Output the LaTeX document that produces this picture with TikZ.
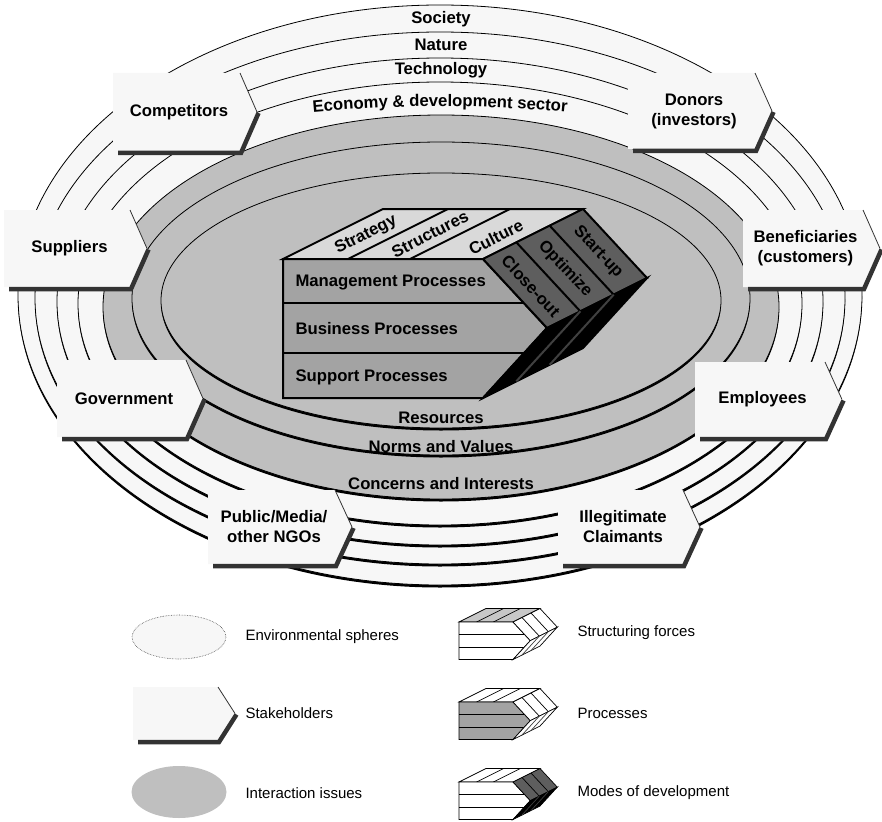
\documentclass[tikz,border=0pt]{standalone}
\usepackage{fontspec}
\setmainfont{Liberation Sans}
\usetikzlibrary{decorations.text}

\definecolor{ringwhite}{gray}{0.97}
\definecolor{issuegray}{gray}{0.75}
\definecolor{shadowdark}{gray}{0.2}
\definecolor{topgray}{gray}{0.85}
\definecolor{legendtop}{gray}{0.78}
\definecolor{procgray}{gray}{0.64}
\definecolor{modegray}{gray}{0.37}

\newcommand\econfont{\bfseries\fontsize{16.7}{20}\selectfont}

\tikzset{
  ringlabel/.style={font=\bfseries\fontsize{16.7}{20}\selectfont},
  stakelabel/.style={font=\bfseries\fontsize{16.7}{20}\selectfont, align=center},
  blocklabel/.style={font=\bfseries\fontsize{16.7}{20}\selectfont},
  legendlabel/.style={anchor=west, font=\fontsize{15}{18}\selectfont},
}

% disc with a dark rim below: fill, cx, cy, rx, ry
\newcommand\disc[5]{%
  \fill[black] (#2,{#3+2.5}) ellipse [x radius=#4, y radius=#5];
  \filldraw[fill=#1, line width=0.8pt] (#2,#3) ellipse [x radius=#4, y radius=#5];
}

% stakeholder arrow box: name, x, y, w, h, text
\newcommand\stakebox[6]{%
  \fill[ringwhite] (#2,#3) -- ({#2+#4-17},#3) -- ({#2+#4},{#3+#5/2}) -- ({#2+#4-17},{#3+#5}) -- (#2,{#3+#5}) -- cycle;
  \draw[line width=0.8pt, color=black!80] ({#2+#4-17},#3) -- ({#2+#4},{#3+#5/2});
  \draw[line width=4.5pt, color=shadowdark] ({#2+5},{#3+#5+2}) -- ({#2+#4-16},{#3+#5+2}) -- ({#2+#4+1.5},{#3+#5/2+1});
  \node[stakelabel] (#1) at ({#2+#4/2-6},{#3+#5/2}) {#6};
}

% organisation block: x, y, scale, top, front, modes, lower, line width
\newcommand\orgblock[8]{%
  \begin{scope}[shift={(#1,#2)}, scale=#3, line width=#8]
    \filldraw[fill=#4] (0,0) -- (200,0) -- (300,-50) -- (100,-50) -- cycle;
    \draw (65,0) -- (165,-50) (127,0) -- (227,-50);
    \filldraw[fill=#5] (0,0) -- (200,0) -- (264,69) -- (200,139) -- (0,139) -- cycle;
    \draw (0,44) -- (240.8,44) (0,94) -- (241.1,94);
    \filldraw[fill=#6] (200,0) -- (264,69) -- (364,19) -- (300,-50) -- cycle;
    \draw (233.3,-16.7) -- (297.3,52.3) (266.7,-33.3) -- (330.7,35.7);
    \filldraw[fill=#7] (264,69) -- (200,139) -- (300,89) -- (364,19) -- cycle;
    \draw[color=black!75] (297.3,52.3) -- (233.3,122.3) (330.7,35.7) -- (266.7,105.7);
  \end{scope}
}

\begin{document}
\begin{tikzpicture}[x=1pt,y=-1pt]
\useasboundingbox (0,0) rectangle (882,821);

% environmental spheres
\disc{ringwhite}{440}{295}{422}{290}
\disc{ringwhite}{440}{298}{405}{266}
\disc{ringwhite}{440}{301.5}{383}{243.5}
\disc{ringwhite}{440}{303.5}{362}{221.5}
% interaction issues
\disc{issuegray}{441}{307}{338}{192}
\disc{issuegray}{441}{298.5}{309}{156.5}
\disc{issuegray}{441}{300.5}{280}{127.5}

\node[ringlabel] (society) at (441,19) {Society};
\node[ringlabel] (nature) at (441,45) {Nature};
\node[ringlabel] (technology) at (441,70) {Technology};
\path[decorate, decoration={text along path, text align=center,
  text={|\econfont|Economy {\&} development sector}}]
  (296,114) .. controls (390,104) and (490,104) .. (584,114);
\node[ringlabel] (resources) at (441,418) {Resources};
\node[ringlabel] (norms) at (441,447) {Norms and Values};
\node[ringlabel] (concerns) at (441,484) {Concerns and Interests};

% the organisation
\orgblock{283}{259}{1}{topgray}{procgray}{modegray}{black}{2pt}
\node[blocklabel, anchor=west] (mgmt) at (292,283) {Management Processes};
\node[blocklabel, anchor=west] (business) at (292,329) {Business Processes};
\node[blocklabel, anchor=west] (support) at (292,377) {Support Processes};
\node[blocklabel, rotate=27] (strategy) at (366,235) {Strategy};
\node[blocklabel, rotate=27] (structures) at (430,234) {Structures};
\node[blocklabel, rotate=27] (culture) at (496,237) {Culture};
\node[blocklabel, rotate=-47] (closeout) at (531,286) {Close-out};
\node[blocklabel, rotate=-47] (optimize) at (565,269) {Optimize};
\node[blocklabel, rotate=-47] (startup) at (598,252) {Start-up};

% stakeholders
\stakebox{competitors}{113}{73}{144}{78}{Competitors}
\stakebox{donors}{628}{73}{144}{76}{Donors\\(investors)}
\stakebox{suppliers}{4}{210}{143}{77}{Suppliers}
\stakebox{beneficiaries}{743}{210}{137}{77}{Beneficiaries\\(customers)}
\stakebox{government}{57}{360}{146}{77}{Government}
\stakebox{employees}{695}{362}{147}{75}{Employees}
\stakebox{public}{208}{490}{144}{74}{Public/Media/\\other NGOs}
\stakebox{illegitimate}{558}{490}{142}{74}{Illegitimate\\Claimants}

% legend
\filldraw[fill=ringwhite, draw=black!70, densely dotted, line width=0.6pt] (179,637) ellipse [x radius=47, y radius=22];
\node[legendlabel] (envlegend) at (242,637) {Environmental spheres};
\stakebox{stakelegendbox}{133}{687}{102}{53}{}
\node[legendlabel] (stakelegend) at (242,713) {Stakeholders};
\fill[issuegray] (179,792) ellipse [x radius=47.5, y radius=26];
\node[legendlabel] (issuelegend) at (242,793) {Interaction issues};

\orgblock{459}{622}{0.27}{legendtop}{white}{white}{white}{0.7pt}
\node[legendlabel] (forceslegend) at (574,633) {Structuring forces};
\orgblock{459}{702}{0.27}{white}{procgray}{white}{white}{0.7pt}
\node[legendlabel] (processlegend) at (574,713) {Processes};
\orgblock{459}{782}{0.27}{white}{white}{modegray}{black}{0.7pt}
\node[legendlabel] (modeslegend) at (574,793) {Modes of development};
\end{tikzpicture}
\end{document}
